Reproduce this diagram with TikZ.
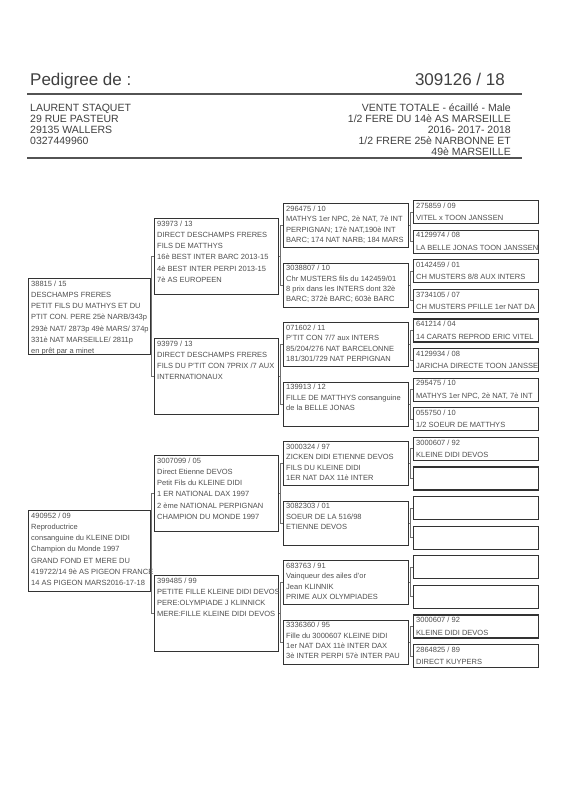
\documentclass[tikz,border=0pt]{standalone}
\usepackage{fontspec}
\setmainfont{Liberation Sans}
\definecolor{txtc}{HTML}{505050}
\definecolor{headc}{HTML}{404040}
\definecolor{framec}{HTML}{333333}
\definecolor{connc}{HTML}{707070}
\newcommand{\pedbox}[7]{%
  \node[box, minimum width=#4pt, minimum height=#5pt] (#1) at (#2,#3) {};
  \node[#6] (#1t) at ([xshift=3pt,yshift=-2.6pt]#1.north west) {#7};
}
\begin{document}
\begin{tikzpicture}[x=1pt,y=-1pt,
  box/.style={draw=framec, line width=1.1pt, anchor=north west, inner sep=0pt},
  tbig/.style={anchor=north west, inner sep=0pt, align=left, text=txtc, font=\fontsize{7.5}{11.2}\selectfont},
  tmid/.style={anchor=north west, inner sep=0pt, align=left, text=txtc, font=\fontsize{7.5}{10.4}\selectfont},
  tsmall/.style={anchor=north west, inner sep=0pt, align=left, text=txtc, font=\fontsize{7.5}{12.5}\selectfont},
  conn/.style={draw=connc, line width=0.8pt},
  rule/.style={draw=headc!90, line width=1.2pt},
  head/.style={inner sep=0pt, text=headc, font=\fontsize{17}{20}\selectfont},
  info/.style={inner sep=0pt, text=headc, font=\fontsize{10.5}{10.9}\selectfont}]
\useasboundingbox (0,0) rectangle (566,800);
\fill[white] (0,0) rectangle (566,800);

% header
\node[head, anchor=base west] (title) at (30,85) {Pedigree de :};
\node[head, anchor=base east] (ring) at (505,85) {309126 / 18};
\coordinate (r1a) at (27,94);
\coordinate (r1b) at (522,94);
\draw[rule] (r1a) -- (r1b);
\node[info, anchor=north west, align=left] (owner) at (30,104) {LAURENT STAQUET\\29 RUE PASTEUR\\29135 WALLERS\\0327449960};
\node[info, anchor=north east, align=right] (desc) at (511,104) {VENTE TOTALE - écaillé - Male\\1/2 FERE DU 14è AS MARSEILLE\\2016- 2017- 2018\\1/2 FRERE 25è NARBONNE ET\hspace*{3pt}\\49è MARSEILLE};
\coordinate (r2a) at (27,158);
\coordinate (r2b) at (522,158);
\draw[rule] (r2a) -- (r2b);

% column 1
\pedbox{a1}{28}{278}{122}{76}{tbig}{38815 / 15\\DESCHAMPS FRERES\\PETIT FILS DU MATHYS ET DU\\PTIT CON. PERE 25è NARB/343p\\293è NAT/ 2873p 49è MARS/ 374p\\331è NAT MARSEILLE/ 2811p\\en prêt par a minet}
\pedbox{a2}{28}{510}{122}{81}{tbig}{490952 / 09\\Reproductrice\\consanguine du KLEINE DIDI\\Champion du Monde 1997\\GRAND FOND ET MERE DU\\419722/14 9è AS PIGEON FRANCE\\14 AS PIGEON MARS2016-17-18}

% column 2
\pedbox{b1}{154}{218}{124}{76}{tbig}{93973 / 13\\DIRECT DESCHAMPS FRERES\\FILS DE MATTHYS\\16è BEST INTER BARC 2013-15\\4è BEST INTER PERPI 2013-15\\7è AS EUROPEEN}
\pedbox{b2}{154}{338}{124}{76}{tbig}{93979 / 13\\DIRECT DESCHAMPS FRERES\\FILS DU P'TIT CON 7PRIX /7 AUX\\INTERNATIONAUX}
\pedbox{b3}{154}{455}{124}{76}{tbig}{3007099 / 05\\Direct Etienne DEVOS\\Petit Fils du KLEINE DIDI\\1 ER NATIONAL DAX 1997\\2 ème NATIONAL PERPIGNAN\\CHAMPION DU MONDE 1997}
\pedbox{b4}{154}{575}{124}{76}{tbig}{399485 / 99\\PETITE FILLE KLEINE DIDI DEVOS\\PERE:OLYMPIADE J KLINNICK\\MERE:FILLE KLEINE DIDI DEVOS}

% column 3
\pedbox{c1}{283}{203}{125}{44}{tmid}{296475 / 10\\MATHYS 1er NPC, 2è NAT, 7è INT\\PERPIGNAN; 17è NAT,190è INT\\BARC; 174 NAT NARB; 184 MARS}
\pedbox{c2}{283}{262.5}{125}{44}{tmid}{3038807 / 10\\Chr MUSTERS fils du 142459/01\\8 prix dans les INTERS dont 32è\\BARC; 372è BARC; 603è BARC}
\pedbox{c3}{283}{322}{125}{44}{tmid}{071602 / 11\\P'TIT CON 7/7 aux INTERS\\85/204/276 NAT BARCELONNE\\181/301/729 NAT PERPIGNAN}
\pedbox{c4}{283}{381.5}{125}{44}{tmid}{139913 / 12\\FILLE DE MATTHYS consanguine\\de la BELLE JONAS}
\pedbox{c5}{283}{441}{125}{44}{tmid}{3000324 / 97\\ZICKEN DIDI ETIENNE DEVOS\\FILS DU KLEINE DIDI\\1ER NAT DAX 11è INTER}
\pedbox{c6}{283}{500.5}{125}{44}{tmid}{3082303 / 01\\SOEUR DE LA 516/98\\ETIENNE DEVOS}
\pedbox{c7}{283}{560}{125}{44}{tmid}{683763 / 91\\Vainqueur des ailes d'or\\Jean KLINNIK\\PRIME AUX OLYMPIADES}
\pedbox{c8}{283}{619.5}{125}{44}{tmid}{3336360 / 95\\Fille du 3000607 KLEINE DIDI\\1er NAT DAX 11è INTER DAX\\3è INTER PERPI 57è INTER PAU}

% column 4
\pedbox{d1}{413}{200}{125}{23}{tsmall}{275859 / 09\\VITEL x TOON JANSSEN}
\pedbox{d2}{413}{229.6}{125}{23}{tsmall}{4129974 / 08\\LA BELLE JONAS TOON JANSSEN}
\pedbox{d3}{413}{259.2}{125}{23}{tsmall}{0142459 / 01\\CH MUSTERS 8/8 AUX INTERS}
\pedbox{d4}{413}{288.8}{125}{23}{tsmall}{3734105 / 07\\CH MUSTERS PFILLE 1er NAT DA}
\pedbox{d5}{413}{318.4}{125}{23}{tsmall}{641214 / 04\\14 CARATS REPROD ERIC VITEL}
\pedbox{d6}{413}{348}{125}{23}{tsmall}{4129934 / 08\\JARICHA DIRECTE TOON JANSSE}
\pedbox{d7}{413}{377.6}{125}{23}{tsmall}{295475 / 10\\MATHYS 1er NPC, 2è NAT, 7è INT}
\pedbox{d8}{413}{407.2}{125}{23}{tsmall}{055750 / 10\\1/2 SOEUR DE MATTHYS}
\pedbox{d9}{413}{436.8}{125}{23}{tsmall}{3000607 / 92\\KLEINE DIDI DEVOS}
\node[box, minimum width=125pt, minimum height=23pt] (d10) at (413,466.4) {};
\node[box, minimum width=125pt, minimum height=23pt] (d11) at (413,496) {};
\node[box, minimum width=125pt, minimum height=23pt] (d12) at (413,525.6) {};
\node[box, minimum width=125pt, minimum height=23pt] (d13) at (413,555.2) {};
\node[box, minimum width=125pt, minimum height=23pt] (d14) at (413,584.8) {};
\pedbox{d15}{413}{614.4}{125}{23}{tsmall}{3000607 / 92\\KLEINE DIDI DEVOS}
\pedbox{d16}{413}{644}{125}{23}{tsmall}{2864825 / 89\\DIRECT KUYPERS}

% connectors
\foreach \p/\u/\v in {a1/b1/b2, a2/b3/b4, b1/c1/c2, b2/c3/c4, b3/c5/c6, b4/c7/c8,
  c1/d1/d2, c2/d3/d4, c3/d5/d6, c4/d7/d8, c5/d9/d10, c6/d11/d12, c7/d13/d14, c8/d15/d16}{
  \draw[conn] (\u.west) -- ++(-2.5,0) |- (\v.west);
  \draw[conn] (\p.east) -- ([xshift=-2.5pt]\p.east -| \u.west);
}
\end{tikzpicture}
\end{document}
